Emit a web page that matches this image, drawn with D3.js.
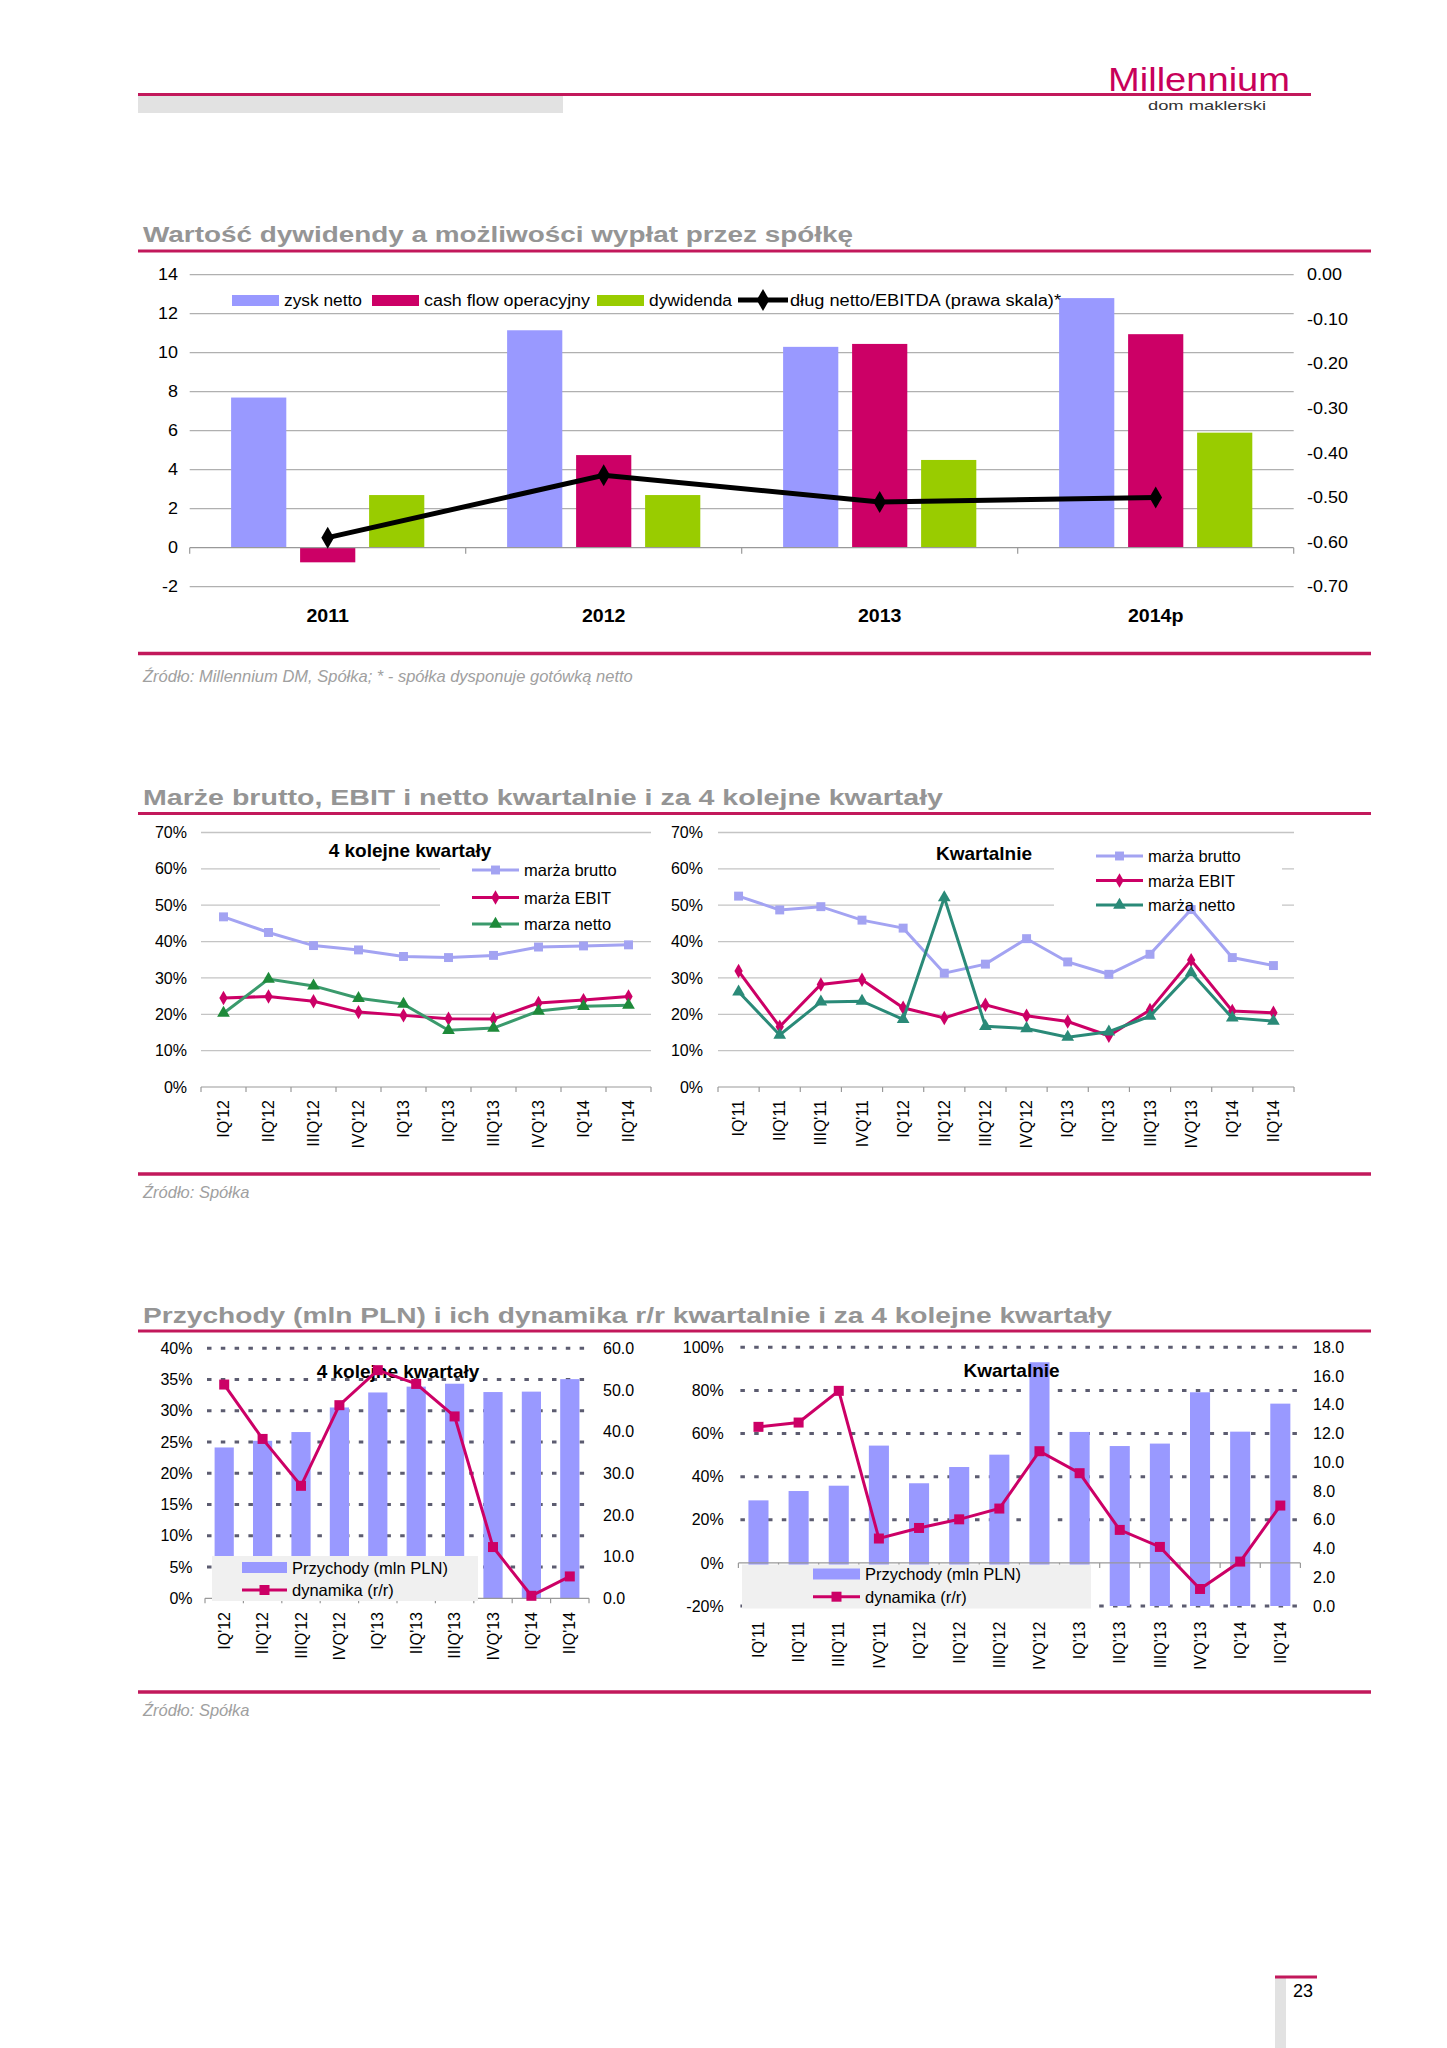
<!DOCTYPE html>
<html>
<head>
<meta charset="utf-8">
<script src="https://cdn.jsdelivr.net/npm/d3@7"></script>
<style>
  body { margin: 0; background: #fff; }
  svg text { font-family: "Liberation Sans", Arial, sans-serif; }
</style>
</head>
<body>
<svg id="page" width="1447" height="2048"></svg>
<script>
// ---- chart 1: dividend vs. payout capacity ----
const divYears = ['2011', '2012', '2013', '2014p'];
const zyskNetto = [7.7, 11.15, 10.3, 12.8];
const cashFlowOp = [-0.75, 4.75, 10.45, 10.95];
const dywidenda = [2.7, 2.7, 4.5, 5.9];
const dlugEbitda = [-0.59, -0.45, -0.51, -0.50];

// ---- chart 2: margins ----
const q4Labels = ["IQ'12", "IIQ'12", "IIIQ'12", "IVQ'12", "IQ'13", "IIQ'13", "IIIQ'13", "IVQ'13", "IQ'14", "IIQ'14"];
const q4Brutto = [46.8, 42.5, 38.9, 37.7, 35.9, 35.6, 36.2, 38.5, 38.8, 39.1];
const q4Ebit = [24.5, 24.9, 23.6, 20.6, 19.7, 18.8, 18.7, 23.1, 23.9, 24.9];
const q4Netto = [20.3, 29.7, 27.8, 24.4, 22.8, 15.6, 16.2, 20.9, 22.2, 22.5];

const qLabels = ["IQ'11", "IIQ'11", "IIIQ'11", "IVQ'11", "IQ'12", "IIQ'12", "IIIQ'12", "IVQ'12", "IQ'13", "IIQ'13", "IIIQ'13", "IVQ'13", "IQ'14", "IIQ'14"];
const qBrutto = [52.5, 48.7, 49.6, 45.9, 43.7, 31.3, 33.8, 40.8, 34.4, 31.0, 36.5, 48.8, 35.6, 33.4];
const qEbit = [31.9, 16.6, 28.2, 29.5, 21.8, 19.0, 22.6, 19.6, 18.0, 14.1, 21.2, 34.9, 20.9, 20.4];
const qNetto = [26.2, 14.3, 23.4, 23.6, 18.6, 52.1, 16.7, 16.1, 13.7, 15.2, 19.5, 31.5, 19.0, 18.1];

// ---- chart 3: revenue and y/y growth ----
const q4Revenue = [36.2, 37.8, 39.9, 45.8, 49.4, 50.8, 51.5, 49.5, 49.6, 52.6];
const q4Growth = [34.2, 25.5, 18.0, 30.9, 36.5, 34.3, 29.1, 8.2, 0.4, 3.5];
const qRevenue = [7.35, 8.0, 8.37, 11.16, 8.54, 9.67, 10.53, 16.96, 12.11, 11.13, 11.30, 14.87, 12.13, 14.08];
const qGrowth = [63.1, 65.1, 79.8, 11.3, 16.2, 20.2, 25.2, 51.8, 41.6, 15.3, 7.4, -12.1, 0.6, 26.6];

const FONT = '"Liberation Sans", Arial, sans-serif';
const TITLE_FONT = '"DejaVu Sans", Verdana, sans-serif';
const MAG = '#c2185b';
const PINK = '#cc0066';
const BLUE = '#9999ff';

const svg = d3.select('#page');
const minus = s => String(s).replace('−', '-');

function stretchText(sel, k) {
    sel.each(function () {
        const len = this.getComputedTextLength();
        d3.select(this).attr('textLength', len * k).attr('lengthAdjust', 'spacingAndGlyphs');
    });
}

function hline(g, x1, x2, y, color, w) {
    return g.append('line').attr('x1', x1).attr('x2', x2).attr('y1', y).attr('y2', y)
        .attr('stroke', color).attr('stroke-width', w);
}

// ---------- page furniture ----------
svg.append('rect').attr('x', 138).attr('y', 96).attr('width', 425).attr('height', 17).attr('fill', '#e2e2e2');
hline(svg, 138, 1311, 94.5, MAG, 3);
svg.append('text').attr('x', 1108).attr('y', 90.5).attr('font-size', 33).attr('fill', '#c8005a')
    .attr('textLength', 182).attr('lengthAdjust', 'spacingAndGlyphs').text('Millennium');
svg.append('text').attr('x', 1148).attr('y', 110).attr('font-size', 13).attr('fill', '#333')
    .attr('textLength', 118).attr('lengthAdjust', 'spacingAndGlyphs').text('dom maklerski');

svg.append('rect').attr('x', 1275).attr('y', 1978).attr('width', 11).attr('height', 70).attr('fill', '#e2e2e2');
hline(svg, 1275, 1317, 1977, MAG, 3);
svg.append('text').attr('x', 1293).attr('y', 1997).attr('font-size', 18).attr('fill', '#000').text('23');

function section(title, titleLen, yTitle, yLine, yBottom, source, ySource) {
    svg.append('text').attr('x', 143).attr('y', yTitle).attr('font-size', 22).attr('font-weight', 'bold')
        .attr('font-family', TITLE_FONT)
        .attr('fill', '#959595').attr('textLength', titleLen).attr('lengthAdjust', 'spacingAndGlyphs').text(title);
    hline(svg, 138, 1371, yLine, MAG, 3);
    hline(svg, 138, 1371, yBottom, MAG, 3.5);
    svg.append('text').attr('x', 143).attr('y', ySource).attr('font-size', 16.5).attr('font-style', 'italic')
        .attr('fill', '#a0a0a0').text(source);
}

section('Wartość dywidendy a możliwości wypłat przez spółkę', 710, 242, 251, 653.5,
    'Źródło: Millennium DM, Spółka; * - spółka dysponuje gotówką netto', 682);
section('Marże brutto, EBIT i netto kwartalnie i za 4 kolejne kwartały', 800, 805, 813.5, 1174,
    'Źródło: Spółka', 1198);
section('Przychody (mln PLN) i ich dynamika r/r kwartalnie i za 4 kolejne kwartały', 969, 1323, 1331, 1692,
    'Źródło: Spółka', 1716);

// ---------- chart 1 ----------
(function chart1() {
    const g = svg.append('g');
    const top = 274.7, bottom = 586.7, left = 189.7, right = 1293.7;
    const y = d3.scaleLinear().domain([-2, 14]).range([bottom, top]);
    const yR = d3.scaleLinear().domain([-0.7, 0]).range([bottom, top]);
    const x = d3.scaleBand().domain(divYears).range([left, right]);
    const keys = ['zysk', 'cf', 'dyw'];
    const xs = d3.scaleBand().domain(keys).range([0, x.bandwidth()]).paddingInner(0.2).paddingOuter(0.6);

    const barSeries = [
        { key: 'zysk', name: 'zysk netto', values: zyskNetto, color: BLUE },
        { key: 'cf', name: 'cash flow operacyjny', values: cashFlowOp, color: PINK },
        { key: 'dyw', name: 'dywidenda', values: dywidenda, color: '#99cc00' }
    ];

    // gridlines
    g.append('g').selectAll('line')
        .data(d3.range(-2, 15, 2).filter(v => v !== 0))
        .join('line')
        .attr('x1', left).attr('x2', right)
        .attr('y1', d => y(d)).attr('y2', d => y(d))
        .attr('stroke', '#b0b0b0').attr('stroke-width', 1.2);

    // legend background hides part of the 12 gridline
    g.append('rect').attr('x', 226).attr('y', 289).attr('width', 834).attr('height', 24).attr('fill', '#fff');

    // bars
    g.append('g').selectAll('g')
        .data(barSeries)
        .join('g')
        .attr('fill', d => d.color)
        .selectAll('rect')
        .data(s => s.values.map((v, i) => ({ v, year: divYears[i], key: s.key })))
        .join('rect')
        .attr('x', d => x(d.year) + xs(d.key))
        .attr('width', xs.bandwidth())
        .attr('y', d => y(Math.max(0, d.v)))
        .attr('height', d => Math.abs(y(d.v) - y(0)));

    // category axis at zero
    hline(g, left, right, y(0), '#999', 1.2);
    g.append('g').selectAll('line')
        .data([...divYears.map(d => x(d)), right])
        .join('line')
        .attr('x1', d => d).attr('x2', d => d)
        .attr('y1', y(0)).attr('y2', y(0) + 6)
        .attr('stroke', '#999').attr('stroke-width', 1.2);

    const axes = g.append('g');
    // left axis labels
    const axL = axes.append('g').attr('transform', `translate(178,0)`)
        .call(d3.axisLeft(y).tickValues(d3.range(-2, 15, 2)).tickSize(0).tickPadding(0).tickFormat(minus))
        .attr('font-size', 16).attr('font-family', FONT);
    axL.select('.domain').remove();
    axL.selectAll('text').attr('fill', '#000');

    // right axis labels
    const axR = axes.append('g').attr('transform', `translate(1307,0)`)
        .call(d3.axisRight(yR).tickValues(d3.range(0, 8).map(i => -i / 10)).tickSize(0).tickPadding(0)
            .tickFormat(d => minus(d3.format('.2f')(d))))
        .attr('font-size', 16).attr('font-family', FONT);
    axR.select('.domain').remove();
    axR.selectAll('text').attr('fill', '#000');

    // year labels
    const axB = axes.append('g').attr('transform', `translate(0,610)`)
        .call(d3.axisBottom(x).tickSize(0).tickPadding(0))
        .attr('font-size', 17.5).attr('font-family', FONT).attr('font-weight', 'bold');
    axB.select('.domain').remove();
    axB.selectAll('text').attr('fill', '#000');
    stretchText(axes.selectAll('text'), 1.12);

    // debt line on right scale
    const pts = dlugEbitda.map((v, i) => ({ v, year: divYears[i] }));
    const cx = d => x(d.year) + x.bandwidth() / 2;
    g.append('path').datum(pts)
        .attr('d', d3.line().x(cx).y(d => yR(d.v)))
        .attr('fill', 'none').attr('stroke', '#000').attr('stroke-width', 5);
    const diamond = d3.symbol().type(d3.symbolDiamond).size(140);
    g.append('g').selectAll('path').data(pts).join('path')
        .attr('d', diamond).attr('transform', d => `translate(${cx(d)},${yR(d.v)})`).attr('fill', '#000');

    // legend
    const lg = g.append('g').attr('font-size', 16);
    const legRects = [
        { x: 232, text: 284, len: 78, s: barSeries[0] },
        { x: 372, text: 424, len: 166, s: barSeries[1] },
        { x: 597, text: 649, len: 83, s: barSeries[2] }
    ];
    legRects.forEach(d => {
        lg.append('rect').attr('x', d.x).attr('y', 295).attr('width', 47).attr('height', 11).attr('fill', d.s.color);
        lg.append('text').attr('x', d.text).attr('y', 300).attr('dominant-baseline', 'central')
            .attr('textLength', d.len).attr('lengthAdjust', 'spacingAndGlyphs').text(d.s.name);
    });
    hline(lg, 738, 788, 300, '#000', 5);
    lg.append('path').attr('d', diamond).attr('transform', 'translate(763,300)').attr('fill', '#000');
    lg.append('text').attr('x', 790).attr('y', 300).attr('dominant-baseline', 'central')
        .attr('textLength', 271).attr('lengthAdjust', 'spacingAndGlyphs')
        .text('dług netto/EBITDA (prawa skala)*');
})();

// ---------- chart 2: margin line charts ----------
function marginChart(cfg) {
    const g = svg.append('g');
    const top = 832.5, bottom = 1087;
    const x = d3.scaleBand().domain(cfg.cats).range([cfg.left, cfg.right]);
    const y = d3.scaleLinear().domain([0, 70]).range([bottom, top]);

    g.append('g').selectAll('line')
        .data(d3.range(10, 71, 10))
        .join('line')
        .attr('x1', cfg.left).attr('x2', cfg.right)
        .attr('y1', d => y(d)).attr('y2', d => y(d))
        .attr('stroke', '#c4c4c4').attr('stroke-width', 1.3);

    hline(g, cfg.left, cfg.right, y(0), '#999', 1.2);
    g.append('g').selectAll('line')
        .data([...cfg.cats.map(d => x(d)), cfg.right])
        .join('line')
        .attr('x1', d => d).attr('x2', d => d)
        .attr('y1', y(0)).attr('y2', y(0) + 5)
        .attr('stroke', '#999').attr('stroke-width', 1.2);

    const axL = g.append('g').attr('transform', `translate(${cfg.labelX},0)`)
        .call(d3.axisLeft(y).tickValues(d3.range(0, 71, 10)).tickSize(0).tickPadding(0).tickFormat(d => d + '%'))
        .attr('font-size', 16).attr('font-family', FONT);
    axL.select('.domain').remove();
    axL.selectAll('text').attr('fill', '#000');

    const axB = g.append('g').attr('transform', `translate(0,1100)`)
        .call(d3.axisBottom(x).tickSize(0).tickPadding(0))
        .attr('font-size', 16).attr('font-family', FONT);
    axB.select('.domain').remove();
    axB.selectAll('text').attr('fill', '#000')
        .attr('transform', 'rotate(-90)').attr('text-anchor', 'end')
        .attr('x', 0).attr('y', 0).attr('dy', '0.35em');

    // legend background
    const lb = cfg.legendBox;
    g.append('rect').attr('x', lb[0]).attr('y', lb[1]).attr('width', lb[2]).attr('height', lb[3]).attr('fill', '#fff');

    g.append('text').attr('x', cfg.titleX).attr('y', cfg.titleY).attr('text-anchor', 'middle')
        .attr('dominant-baseline', 'central').attr('font-size', 19).attr('font-weight', 'bold').text(cfg.title);

    const cx = c => x(c) + x.bandwidth() / 2;
    cfg.series.forEach((s, si) => {
        const pts = s.values.map((v, i) => ({ v, c: cfg.cats[i] }));
        const sym = d3.symbol().type(s.symbol).size(s.size);
        g.append('path').datum(pts)
            .attr('d', d3.line().x(d => cx(d.c)).y(d => y(d.v)))
            .attr('fill', 'none').attr('stroke', s.color).attr('stroke-width', 3);
        g.append('g').selectAll('path').data(pts).join('path')
            .attr('d', sym)
            .attr('transform', d => `translate(${cx(d.c)},${y(d.v)})`)
            .attr('fill', s.marker);
        // legend entry
        const ly = cfg.legendYs[si];
        hline(g, cfg.legendX[0], cfg.legendX[1], ly, s.color, 3);
        g.append('path').attr('d', sym)
            .attr('transform', `translate(${(cfg.legendX[0] + cfg.legendX[1]) / 2},${ly})`).attr('fill', s.marker);
        g.append('text').attr('x', cfg.legendX[1] + 5).attr('y', ly).attr('dominant-baseline', 'central')
            .attr('font-size', 16.5).text(s.name);
    });
}

marginChart({
    cats: q4Labels, left: 201, right: 651, labelX: 187,
    title: '4 kolejne kwartały', titleX: 410, titleY: 850,
    legendBox: [440, 858, 211, 77], legendX: [472, 519], legendYs: [870, 897.5, 924],
    series: [
        { name: 'marża brutto', values: q4Brutto, color: '#a3a3f2', marker: '#a3a3f2', symbol: d3.symbolSquare, size: 80 },
        { name: 'marża EBIT', values: q4Ebit, color: PINK, marker: PINK, symbol: d3.symbolDiamond, size: 60 },
        { name: 'marza netto', values: q4Netto, color: '#3a9a6c', marker: '#1e8a3a', symbol: d3.symbolTriangle, size: 70 }
    ]
});

marginChart({
    cats: qLabels, left: 718, right: 1294, labelX: 703,
    title: 'Kwartalnie', titleX: 984, titleY: 853,
    legendBox: [1054, 843, 228, 75], legendX: [1096, 1143], legendYs: [856, 880.5, 905],
    series: [
        { name: 'marża brutto', values: qBrutto, color: '#a3a3f2', marker: '#a3a3f2', symbol: d3.symbolSquare, size: 80 },
        { name: 'marża EBIT', values: qEbit, color: PINK, marker: PINK, symbol: d3.symbolDiamond, size: 60 },
        { name: 'marża netto', values: qNetto, color: '#2a8a78', marker: '#2a8a78', symbol: d3.symbolTriangle, size: 70 }
    ]
});

// ---------- chart 3: revenue bars + growth line ----------
function revenueChart(cfg) {
    const g = svg.append('g');
    const x = d3.scaleBand().domain(cfg.cats).range([cfg.left, cfg.right]).paddingInner(0.5).paddingOuter(0.25);
    const xc = d3.scaleBand().domain(cfg.cats).range([cfg.left, cfg.right]);
    const yL = d3.scaleLinear().domain(cfg.pctDomain).range([cfg.bottom, cfg.top]);
    const yR = d3.scaleLinear().domain(cfg.valDomain).range([cfg.bottom, cfg.top]);
    const pctTicks = d3.range(cfg.pctDomain[0], cfg.pctDomain[1] + 0.1, cfg.pctStep);
    const valTicks = d3.range(cfg.valDomain[0], cfg.valDomain[1] + 0.1, cfg.valStep);

    // dotted gridlines
    g.append('g').selectAll('line')
        .data(pctTicks.filter(v => v !== 0))
        .join('line')
        .attr('x1', cfg.left + 2).attr('x2', cfg.right)
        .attr('y1', d => yL(d)).attr('y2', d => yL(d))
        .attr('stroke', '#5c5c70').attr('stroke-width', 3).attr('stroke-dasharray', '4.5 9.3');

    // bars (right scale)
    g.append('g').selectAll('rect')
        .data(cfg.revenue.map((v, i) => ({ v, c: cfg.cats[i] })))
        .join('rect')
        .attr('x', d => x(d.c)).attr('width', x.bandwidth())
        .attr('y', d => yR(d.v)).attr('height', d => yR(0) - yR(d.v))
        .attr('fill', BLUE);

    // zero axis
    hline(g, cfg.left, cfg.right, yL(0), '#999', 1.2);
    g.append('g').selectAll('line')
        .data([...cfg.cats.map(d => xc(d)), cfg.right])
        .join('line')
        .attr('x1', d => d).attr('x2', d => d)
        .attr('y1', yL(0)).attr('y2', yL(0) + 5)
        .attr('stroke', '#999').attr('stroke-width', 1.2);

    const axL = g.append('g').attr('transform', `translate(${cfg.labelL},0)`)
        .call(d3.axisLeft(yL).tickValues(pctTicks).tickSize(0).tickPadding(0)
            .tickFormat(d => minus(d) + '%'))
        .attr('font-size', 16).attr('font-family', FONT);
    axL.select('.domain').remove();
    axL.selectAll('text').attr('fill', '#000');

    const axR = g.append('g').attr('transform', `translate(${cfg.labelR},0)`)
        .call(d3.axisRight(yR).tickValues(valTicks).tickSize(0).tickPadding(0).tickFormat(d3.format('.1f')))
        .attr('font-size', 16).attr('font-family', FONT);
    axR.select('.domain').remove();
    axR.selectAll('text').attr('fill', '#000');

    const axB = g.append('g').attr('transform', `translate(0,${cfg.catY})`)
        .call(d3.axisBottom(xc).tickSize(0).tickPadding(0))
        .attr('font-size', 16).attr('font-family', FONT);
    axB.select('.domain').remove();
    axB.selectAll('text').attr('fill', '#000')
        .attr('transform', 'rotate(-90)').attr('text-anchor', 'end')
        .attr('x', 0).attr('y', 0).attr('dy', '0.35em');

    // legend box
    const lb = cfg.legendBox;
    g.append('rect').attr('x', lb[0]).attr('y', lb[1]).attr('width', lb[2]).attr('height', lb[3]).attr('fill', '#f0f0f0');
    const lx = cfg.legendX;
    g.append('rect').attr('x', lx[0]).attr('y', cfg.legendYs[0] - 5.5).attr('width', lx[1] - lx[0]).attr('height', 11).attr('fill', BLUE);
    g.append('text').attr('x', lx[1] + 5).attr('y', cfg.legendYs[0]).attr('dominant-baseline', 'central')
        .attr('font-size', 16.5).text('Przychody (mln PLN)');
    const sq = d3.symbol().type(d3.symbolSquare).size(100);
    hline(g, lx[0], lx[1], cfg.legendYs[1], PINK, 3);
    g.append('path').attr('d', sq).attr('transform', `translate(${(lx[0] + lx[1]) / 2},${cfg.legendYs[1]})`).attr('fill', PINK);
    g.append('text').attr('x', lx[1] + 5).attr('y', cfg.legendYs[1]).attr('dominant-baseline', 'central')
        .attr('font-size', 16.5).text('dynamika (r/r)');

    g.append('text').attr('x', cfg.titleX).attr('y', cfg.titleY).attr('text-anchor', 'middle')
        .attr('dominant-baseline', 'central').attr('font-size', 19).attr('font-weight', 'bold').text(cfg.title);

    // growth line (left scale)
    const cx = c => xc(c) + xc.bandwidth() / 2;
    const pts = cfg.growth.map((v, i) => ({ v, c: cfg.cats[i] }));
    g.append('path').datum(pts)
        .attr('d', d3.line().x(d => cx(d.c)).y(d => yL(d.v)))
        .attr('fill', 'none').attr('stroke', PINK).attr('stroke-width', 3);
    g.append('g').selectAll('path').data(pts).join('path')
        .attr('d', sq).attr('transform', d => `translate(${cx(d.c)},${yL(d.v)})`).attr('fill', PINK);
}

revenueChart({
    cats: q4Labels, revenue: q4Revenue, growth: q4Growth,
    left: 205, right: 589, top: 1348.3, bottom: 1598.3,
    pctDomain: [0, 40], pctStep: 5, valDomain: [0, 60], valStep: 10,
    labelL: 192.5, labelR: 603, catY: 1612,
    title: '4 kolejne kwartały', titleX: 398, titleY: 1371,
    legendBox: [212, 1556, 266, 45], legendX: [242, 287], legendYs: [1567.5, 1590]
});

revenueChart({
    cats: qLabels, revenue: qRevenue, growth: qGrowth,
    left: 738.4, right: 1300.4, top: 1347.3, bottom: 1606,
    pctDomain: [-20, 100], pctStep: 20, valDomain: [0, 18], valStep: 2,
    labelL: 723.7, labelR: 1313, catY: 1621.5,
    title: 'Kwartalnie', titleX: 1011.6, titleY: 1370,
    legendBox: [742, 1564.5, 349, 44], legendX: [813, 860], legendYs: [1574, 1596.7]
});
</script>
</body>
</html>
